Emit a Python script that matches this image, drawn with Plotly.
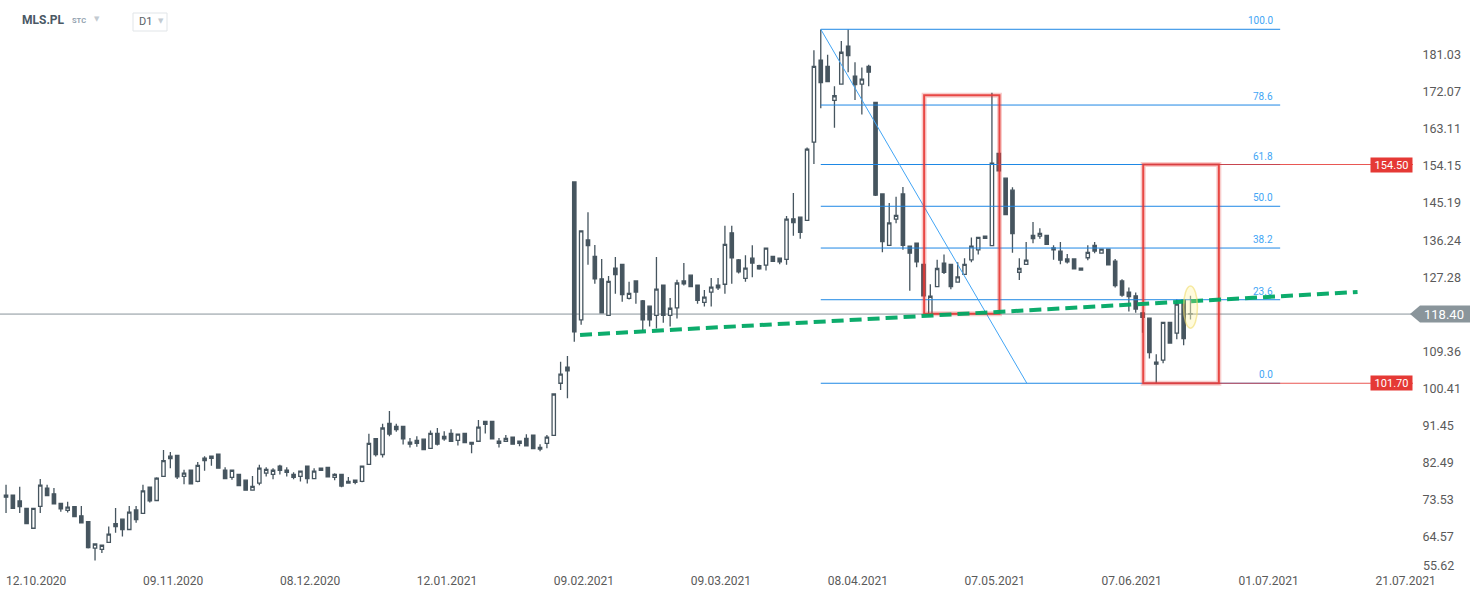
import plotly.graph_objects as go

# ---------------- data ----------------
opens = [74.7, 74.7, 73.3, 71.5, 66.7, 72.0, 76.4, 75.0, 72.7, 71.0,
         71.9, 69.7, 68.3, 61.9, 61.6, 63.3, 67.8, 68.9, 66.4, 71.1,
         70.3, 76.6, 73.4, 79.2, 84.1, 84.3, 79.2, 80.7, 78.0, 83.6,
         83.6, 84.6, 80.7, 79.0, 79.7, 78.3, 75.9, 77.6, 80.0, 79.7,
         81.7, 80.7, 79.7, 79.2, 81.7, 78.7, 81.2, 81.4, 79.0, 79.7,
         77.6, 78.3, 78.0, 82.1, 88.3, 84.5, 92.0, 91.3, 91.3, 87.5,
         87.9, 88.2, 86.0, 89.6, 88.3, 89.6, 87.9, 89.6, 87.4, 87.7,
         92.5, 92.5, 87.7, 87.7, 88.7, 87.2, 88.4, 89.2, 86.2, 87.2,
         89.1, 101.7, 105.6, 150.3, 117.0, 136.3, 132.3, 126.9, 118.1, 129.5,
         130.4, 122.2, 126.4, 121.6, 120.3, 118.1, 125.4, 118.1, 119.9, 126.4,
         127.8, 125.4, 121.2, 123.7, 125.4, 125.6, 138.0, 131.5, 127.0, 131.9,
         130.1, 130.2, 132.3, 131.9, 131.6, 141.4, 141.8, 141.0, 159.9, 179.7,
         178.2, 170.0, 173.9, 183.1, 175.8, 173.9, 178.2, 169.5, 147.4, 135.0,
         141.3, 147.4, 134.8, 135.5, 130.4, 118.2, 125.0, 130.7, 130.4, 126.1,
         128.0, 131.5, 133.9, 136.7, 134.9, 157.2, 151.2, 148.3, 128.5, 130.4,
         137.4, 137.2, 137.4, 133.9, 133.6, 131.7, 131.7, 129.0, 132.0, 135.0,
         133.1, 134.1, 131.2, 126.4, 123.7, 122.8, 118.7, 117.4, 106.8, 107.3,
         116.4, 113.8, 121.8, 118.5]
highs = [77.2, 74.7, 76.7, 71.5, 71.5, 78.6, 77.2, 76.4, 72.7, 73.1,
         71.9, 72.1, 68.3, 62.9, 62.6, 67.1, 71.6, 68.9, 72.1, 72.1,
         77.2, 76.6, 79.0, 85.6, 85.1, 84.3, 80.8, 80.7, 82.7, 84.1,
         84.1, 84.6, 81.4, 80.7, 79.7, 78.3, 79.3, 82.0, 81.4, 81.2,
         82.0, 81.4, 80.2, 80.5, 81.7, 81.2, 81.2, 81.4, 80.0, 79.7,
         79.1, 78.3, 81.7, 89.5, 88.5, 91.9, 95.0, 91.9, 91.3, 88.5,
         88.9, 88.2, 90.3, 90.9, 90.1, 90.6, 89.4, 89.6, 87.4, 92.8,
         92.5, 92.5, 88.5, 89.2, 88.7, 87.7, 89.4, 89.2, 87.0, 89.2,
         99.1, 106.9, 108.3, 150.3, 138.5, 143.0, 135.1, 131.7, 127.6, 132.2,
         130.4, 126.2, 126.4, 121.8, 120.3, 132.2, 125.4, 122.3, 126.7, 130.7,
         127.8, 125.4, 124.2, 127.1, 127.1, 139.7, 139.7, 131.7, 132.6, 135.0,
         130.3, 134.3, 132.3, 131.9, 142.1, 147.6, 141.8, 158.6, 182.1, 187.1,
         181.0, 173.4, 184.3, 187.1, 179.2, 177.9, 178.6, 169.5, 147.4, 145.2,
         146.7, 149.1, 134.8, 135.5, 130.4, 125.6, 131.5, 132.8, 130.4, 130.9,
         131.9, 136.9, 136.9, 137.3, 171.8, 157.2, 151.2, 149.0, 131.9, 135.8,
         140.6, 139.1, 137.4, 135.0, 135.8, 132.9, 131.7, 129.6, 135.0, 135.8,
         134.1, 134.1, 131.7, 126.8, 124.8, 123.6, 118.7, 117.4, 108.7, 116.4,
         116.4, 122.0, 121.8, 122.8]
lows = [70.4, 71.5, 70.4, 67.8, 66.7, 70.4, 74.6, 72.6, 70.7, 70.5,
        69.5, 68.0, 61.8, 58.9, 60.7, 63.3, 65.6, 64.7, 66.4, 68.0,
        70.3, 72.9, 73.4, 79.2, 81.2, 78.6, 77.3, 77.4, 77.8, 80.6,
        81.8, 81.2, 78.7, 78.4, 77.0, 75.9, 75.9, 77.1, 79.2, 78.5,
        79.7, 79.2, 78.5, 78.0, 77.5, 78.5, 80.5, 79.1, 78.3, 76.6,
        77.6, 77.3, 77.8, 82.1, 84.0, 83.8, 88.9, 90.0, 86.9, 86.2,
        86.4, 85.7, 85.8, 86.7, 87.8, 87.7, 86.7, 87.4, 84.8, 87.7,
        89.6, 88.2, 86.2, 87.7, 87.0, 86.5, 86.6, 85.9, 85.3, 86.0,
        89.1, 100.1, 98.1, 111.7, 115.8, 130.3, 125.7, 118.7, 118.1, 123.3,
        121.4, 121.9, 120.9, 114.4, 115.4, 114.9, 116.3, 115.4, 117.3, 125.3,
        125.0, 120.9, 120.2, 120.2, 124.2, 123.3, 125.7, 128.2, 126.2, 127.3,
        129.1, 128.9, 131.1, 130.4, 130.3, 137.3, 136.6, 141.0, 154.6, 168.1,
        174.5, 163.4, 173.9, 176.8, 170.1, 166.6, 173.4, 146.9, 133.3, 135.0,
        140.3, 133.9, 124.0, 129.7, 122.8, 118.2, 125.0, 128.1, 124.4, 126.1,
        127.9, 130.9, 132.8, 136.6, 134.9, 153.0, 142.4, 133.2, 126.6, 130.4,
        135.5, 136.6, 135.2, 131.5, 130.4, 130.6, 129.3, 128.9, 131.4, 133.1,
        133.1, 130.3, 124.8, 122.6, 119.0, 118.7, 113.9, 107.7, 101.7, 106.5,
        111.4, 112.3, 110.9, 117.1]
closes = [74.2, 71.5, 71.9, 67.8, 71.5, 77.1, 74.6, 72.6, 71.4, 71.8,
          69.5, 68.0, 62.0, 62.9, 62.6, 65.3, 67.1, 66.4, 70.6, 68.8,
          75.7, 73.3, 78.8, 83.0, 83.5, 79.1, 80.0, 77.4, 81.9, 83.0,
          84.1, 81.2, 78.7, 80.7, 77.0, 75.9, 76.8, 81.2, 80.9, 80.7,
          80.7, 80.2, 79.0, 80.5, 78.7, 80.5, 80.7, 79.1, 79.7, 76.9,
          78.0, 77.8, 81.7, 87.2, 84.5, 90.9, 89.4, 90.5, 88.3, 87.0,
          87.2, 85.7, 89.6, 87.0, 88.9, 87.7, 89.4, 87.4, 87.0, 91.1,
          91.8, 88.3, 87.2, 88.4, 87.0, 87.7, 86.6, 85.9, 85.8, 88.7,
          99.1, 103.9, 104.7, 114.1, 138.5, 134.9, 126.9, 118.7, 126.3, 127.9,
          123.1, 123.4, 123.7, 117.0, 117.0, 124.4, 118.1, 119.8, 125.9, 125.7,
          125.0, 121.7, 122.5, 124.9, 124.7, 135.2, 132.0, 128.6, 129.5, 130.7,
          129.3, 134.3, 131.1, 131.0, 141.3, 140.5, 138.1, 158.2, 178.2, 174.3,
          174.5, 171.1, 181.6, 180.8, 173.8, 175.1, 176.8, 147.1, 135.9, 140.4,
          142.2, 135.0, 133.1, 131.0, 122.8, 122.7, 129.4, 128.5, 125.0, 127.4,
          130.4, 134.8, 136.9, 137.2, 154.8, 153.0, 142.4, 137.8, 129.4, 131.4,
          136.6, 137.9, 135.2, 134.4, 131.4, 131.0, 129.3, 129.5, 133.3, 133.6,
          134.1, 130.3, 125.3, 123.0, 122.6, 119.6, 117.6, 109.1, 106.3, 116.4,
          111.4, 120.8, 112.5, 118.4]

x_tick_pos = [4.41, 24.41, 44.41, 64.41, 84.41, 104.41, 124.41, 144.41, 164.41, 184.41, 204.41]
x_tick_labels = ["12.10.2020", "09.11.2020", "08.12.2020", "12.01.2021", "09.02.2021",
                 "09.03.2021", "08.04.2021", "07.05.2021", "07.06.2021", "01.07.2021", "21.07.2021"]
y_tick_vals = [64.57, 73.53, 82.49, 91.45, 100.41, 109.36, 127.28, 136.24, 145.19,
               154.15, 163.11, 172.07, 181.03]
y_bottom_label = 55.62

last_price = 118.40
fib_high = 187.14
fib_low = 101.70
fib_ratios = [100.0, 78.6, 61.8, 50.0, 38.2, 23.6, 0.0]
fib_start_idx = 119
fib_end_idx = 186.1
fib_diag_end_idx = 149.1
level_top = 154.50
level_bottom = 101.70
rect1 = dict(x0=134.1, x1=145.1, y0=118.5, y1=171.2)
rect2 = dict(x0=166.1, x1=177.14, y0=level_bottom, y1=level_top)
trend_start = (83.84, 113.35)
trend_end = (197.4, 123.73)

# ---------------- layout geometry ----------------
W, H = 1482, 598
PLOT_W, PLOT_H = 1413, 572
X_RANGE = [-0.88, 205.5]
Y_RANGE = [56.14, 194.21]

def px_x(px):
    return px / PLOT_W

def px_y(py):
    return 1 - py / PLOT_H

def val_y(v):
    return (v - Y_RANGE[0]) / (Y_RANGE[1] - Y_RANGE[0])

CANDLE = '#46555f'
FONT = 'Roboto, Arial, sans-serif'

n = len(opens)
xs = list(range(n))

fig = go.Figure()
fig.add_trace(go.Candlestick(
    x=xs[:-1], open=opens[:-1], high=highs[:-1], low=lows[:-1], close=closes[:-1],
    increasing=dict(line=dict(color=CANDLE, width=1.3), fillcolor='white'),
    decreasing=dict(line=dict(color=CANDLE, width=1.3), fillcolor=CANDLE),
    hoverinfo='skip', showlegend=False))
fig.add_trace(go.Candlestick(
    x=xs[-1:], open=opens[-1:], high=highs[-1:], low=lows[-1:], close=closes[-1:],
    increasing=dict(line=dict(color='#7f8c92', width=1.3), fillcolor='#7f8c92'),
    decreasing=dict(line=dict(color='#7f8c92', width=1.3), fillcolor='#7f8c92'),
    hoverinfo='skip', showlegend=False))

shapes = []
# current price line
shapes.append(dict(type='line', xref='paper', yref='y', x0=0, x1=1, y0=last_price, y1=last_price,
                   line=dict(color='#88939a', width=1), layer='below'))
# fib levels
fib_levels = [fib_low + r / 100.0 * (fib_high - fib_low) for r in fib_ratios]
for lv in fib_levels:
    shapes.append(dict(type='line', xref='x', yref='y', x0=fib_start_idx, x1=fib_end_idx,
                       y0=lv, y1=lv, line=dict(color='#1e88e5', width=1)))
# fib diagonal
shapes.append(dict(type='line', xref='x', yref='y', x0=fib_start_idx, x1=fib_diag_end_idx,
                   y0=fib_high, y1=fib_low, line=dict(color='#42a5f5', width=1)))
# red horizontal levels to the right labels
for lv in (level_top, level_bottom):
    shapes.append(dict(type='line', xref='x', yref='y', x0=rect2['x1'], x1=X_RANGE[1],
                       y0=lv, y1=lv, line=dict(color='rgba(229,57,53,0.85)', width=1)))
# red rectangles (glow + line)
for r in (rect1, rect2):
    shapes.append(dict(type='rect', xref='x', yref='y', **r,
                       line=dict(color='rgba(229,57,53,0.25)', width=5), fillcolor='rgba(0,0,0,0)'))
    shapes.append(dict(type='rect', xref='x', yref='y', **r,
                       line=dict(color='rgba(229,57,53,0.9)', width=2), fillcolor='rgba(0,0,0,0)'))
# green dashed trend line
shapes.append(dict(type='line', xref='x', yref='y', x0=trend_start[0], y0=trend_start[1],
                   x1=trend_end[0], y1=trend_end[1],
                   line=dict(color='rgba(0,168,100,0.95)', width=4, dash='12px,6px')))
# yellow ellipse highlight around the last candle
shapes.append(dict(type='circle', xref='x', yref='y', x0=n - 1 - 1.02, x1=n - 1 + 1.02,
                   y0=114.97, y1=125.18, fillcolor='rgba(255,238,120,0.25)',
                   line=dict(color='rgba(240,220,110,0.6)', width=1.5)))
# last-price arrow box
yc = val_y(last_price)
hh = 8.5 / PLOT_H
shapes.append(dict(type='path', xref='paper', yref='paper',
                   path=(f"M {px_x(1410)},{yc} L {px_x(1420)},{yc + hh} L {px_x(1470)},{yc + hh} "
                         f"L {px_x(1470)},{yc - hh} L {px_x(1420)},{yc - hh} Z"),
                   fillcolor='#8a959b', line=dict(width=0)))
# D1 box in header
shapes.append(dict(type='rect', xref='paper', yref='paper', x0=px_x(133), x1=px_x(167),
                   y0=px_y(31), y1=px_y(13), line=dict(color='#e1e5e8', width=1),
                   fillcolor='white'))

annotations = []
fib_texts = ['100.0', '78.6', '61.8', '50.0', '38.2', '23.6', '0.0']
for lv, t in zip(fib_levels, fib_texts):
    annotations.append(dict(x=fib_end_idx, y=lv, xref='x', yref='y', text=t, showarrow=False,
                            xanchor='right', yanchor='bottom', xshift=-5, yshift=1,
                            font=dict(family=FONT, size=10, color='#42a5f5')))
for lv in (level_top, level_bottom):
    annotations.append(dict(x=1, y=lv, xref='paper', yref='y', text=f"{lv:.2f}", showarrow=False,
                            xanchor='right', yanchor='middle', bgcolor='#e53935', width=39,
                            height=12, borderpad=1,
                            font=dict(family=FONT, size=11, color='white')))
annotations.append(dict(x=px_x(1444), y=last_price, xref='paper', yref='y', text=f"{last_price:.2f}",
                        showarrow=False, xanchor='center', yanchor='middle',
                        font=dict(family=FONT, size=13, color='white')))
annotations.append(dict(x=px_x(1421), y=px_y(565), xref='paper', yref='paper',
                        text=f"{y_bottom_label:.2f}", showarrow=False, xanchor='left',
                        yanchor='middle', font=dict(family=FONT, size=12.5, color='#5a5a5a')))
# header
annotations.append(dict(x=px_x(20), y=px_y(20), xref='paper', yref='paper', text='<b>MLS.PL</b>',
                        showarrow=False, xanchor='left', yanchor='middle',
                        font=dict(family=FONT, size=12, color='#4a5864')))
annotations.append(dict(x=px_x(70), y=px_y(21), xref='paper', yref='paper', text='<b>STC</b>',
                        showarrow=False, xanchor='left', yanchor='middle',
                        font=dict(family=FONT, size=7.5, color='#94a3b0')))
annotations.append(dict(x=px_x(92), y=px_y(19), xref='paper', yref='paper', text='▼',
                        showarrow=False, xanchor='left', yanchor='middle',
                        font=dict(family='DejaVu Sans', size=7, color='#c3cad1')))
annotations.append(dict(x=px_x(137), y=px_y(22), xref='paper', yref='paper', text='D1',
                        showarrow=False, xanchor='left', yanchor='middle',
                        font=dict(family=FONT, size=11, color='#5a6268')))
annotations.append(dict(x=px_x(156), y=px_y(21), xref='paper', yref='paper', text='▼',
                        showarrow=False, xanchor='left', yanchor='middle',
                        font=dict(family='DejaVu Sans', size=7, color='#c3cad1')))

fig.update_layout(
    width=W, height=H,
    margin=dict(l=0, r=W - PLOT_W, t=0, b=H - PLOT_H),
    paper_bgcolor='white', plot_bgcolor='white',
    showlegend=False,
    font=dict(family=FONT, size=12, color='#5a5a5a'),
    shapes=shapes, annotations=annotations,
    xaxis=dict(range=X_RANGE, tickvals=x_tick_pos, ticktext=x_tick_labels,
               showgrid=False, zeroline=False, showline=False, rangeslider=dict(visible=False),
               ticks='', tickfont=dict(family=FONT, size=12, color='#5a5a5a')),
    yaxis=dict(range=Y_RANGE, side='right', tickvals=y_tick_vals,
               ticktext=[f"{v:.2f}" for v in y_tick_vals],
               showgrid=False, zeroline=False, showline=False,
               ticks='outside', ticklen=6, tickcolor='rgba(0,0,0,0)',
               tickfont=dict(family=FONT, size=12.5, color='#5a5a5a')),
)

fig.write_html("out.html", config={'displayModeBar': False},
               post_script="document.body.style.margin='0';document.body.style.overflow='hidden';")
